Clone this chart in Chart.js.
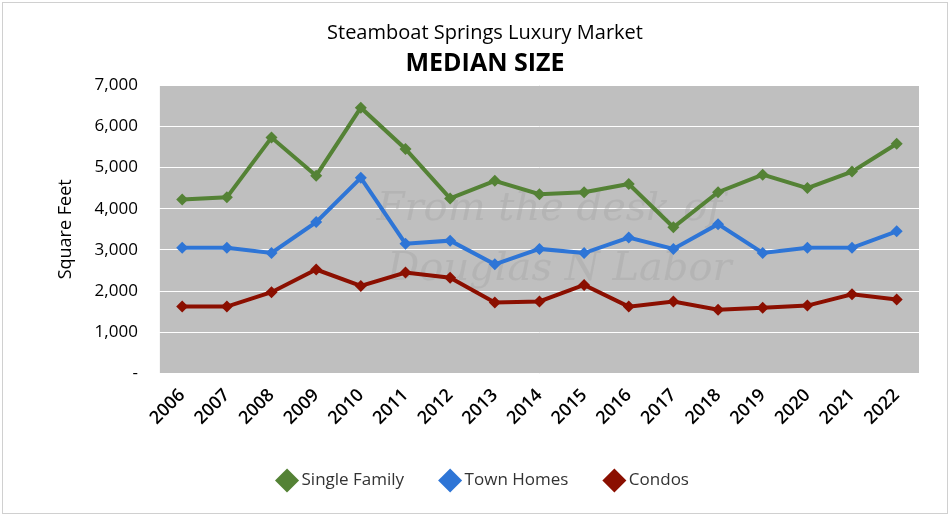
<!DOCTYPE html>
<html>
<head>
<meta charset="utf-8">
<script src="https://cdn.jsdelivr.net/npm/chart.js@4"></script>
<style>
  html, body { margin: 0; padding: 0; background: #fff; }
  #wrap { position: absolute; left: 2px; top: 2px; width: 946px; height: 512px; border: 1px solid #d0d0d0; box-sizing: border-box; }
</style>
</head>
<body>
<div id="wrap"><canvas id="chart"></canvas></div>
<script>
// Data
var years = ['2006','2007','2008','2009','2010','2011','2012','2013','2014','2015','2016','2017','2018','2019','2020','2021','2022'];
var singleFamily = [4225, 4275, 5725, 4800, 6450, 5450, 4250, 4675, 4350, 4400, 4600, 3550, 4400, 4825, 4500, 4900, 5575];
var townHomes = [3050, 3050, 2925, 3675, 4750, 3150, 3225, 2650, 3025, 2925, 3300, 3025, 3625, 2925, 3050, 3050, 3450];
var condos = [1625, 1625, 1975, 2525, 2125, 2450, 2325, 1725, 1750, 2150, 1625, 1750, 1550, 1600, 1650, 1925, 1800];

var font = "'Open Sans', 'Liberation Sans', sans-serif";

// grey plot area + watermark
var plotBg = {
  id: 'plotBg',
  beforeDraw: function (chart) {
    var a = chart.chartArea, c = chart.ctx;
    c.save();
    c.fillStyle = '#bfbfbf';
    c.fillRect(a.left, a.top, a.right - a.left, a.bottom - a.top);
    c.restore();
  },
  beforeDatasetsDraw: function (chart) {
    var a = chart.chartArea, c = chart.ctx;
    c.save();
    c.fillStyle = 'rgba(160,160,160,0.35)';
    c.font = "italic 40px 'DejaVu Serif', serif";
    c.textAlign = 'center';
    c.fillText('From the desk of', (a.left + a.right) / 2 + 10, a.top + 125);
    c.fillText('Douglas N Labor', (a.left + a.right) / 2 + 20, a.top + 185);
    c.restore();
  }
};

function ds(label, data, color) {
  return {
    label: label,
    data: data,
    borderColor: color,
    backgroundColor: color,
    borderWidth: 4,
    pointStyle: 'rectRot',
    pointRadius: 6,
    pointBorderWidth: 0,
    tension: 0
  };
}

new Chart(document.getElementById('chart'), {
  type: 'line',
  data: {
    labels: years,
    datasets: [
      ds('Single Family', singleFamily, '#548235'),
      ds('Town Homes', townHomes, '#2e75d6'),
      ds('Condos', condos, '#8b0f00')
    ]
  },
  options: {
    responsive: true,
    maintainAspectRatio: false,
    animation: false,
    layout: { padding: { left: 48, right: 28, top: 18, bottom: 14 } },
    scales: {
      x: {
        offset: true,
        grid: { display: false },
        border: { display: false },
        ticks: { color: '#000', maxRotation: 45, minRotation: 45, font: { family: font, size: 18, weight: '600' } }
      },
      y: {
        min: 0,
        max: 7000,
        border: { display: false },
        grid: { color: '#ffffff', lineWidth: 1 },
        ticks: {
          stepSize: 1000,
          color: '#000',
          padding: 14,
          font: { family: font, size: 17 },
          callback: function (v) { return v === 0 ? '-' : v.toLocaleString('en-US'); }
        },
        title: { display: true, text: 'Square Feet', color: '#000', font: { family: font, size: 18 } }
      }
    },
    plugins: {
      title: { display: true, text: 'Steamboat Springs Luxury Market', color: '#000', font: { family: font, size: 20, weight: 'normal' }, padding: { top: 0, bottom: 4 } },
      subtitle: { display: true, text: 'MEDIAN SIZE', color: '#000', font: { family: font, size: 25, weight: 'bold' }, padding: { bottom: 6 } },
      legend: {
        position: 'bottom',
        labels: { color: '#333', usePointStyle: true, pointStyle: 'rectRot', boxWidth: 12, padding: 40, font: { family: font, size: 17 } }
      }
    }
  },
  plugins: [plotBg]
});
</script>
</body>
</html>
